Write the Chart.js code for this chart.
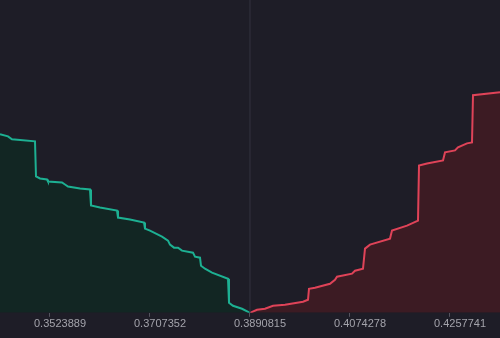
<!DOCTYPE html>
<html>
<head>
<meta charset="utf-8">
<script src="https://cdn.jsdelivr.net/npm/chart.js@4/dist/chart.umd.min.js"></script>
<style>
  html, body { margin: 0; padding: 0; background: #1e1d27; }
  #wrap { width: 500px; height: 338px; }
</style>
</head>
<body>
<div id="wrap"><canvas id="depth"></canvas></div>
<script>
// 买单（bids）价格与累计深度
const bidPrices = [0.3432158, 0.3446835, 0.3454174, 0.3496370, 0.3498205, 0.3505543, 0.3518386, 0.3520220,
  0.3545905, 0.3551409, 0.3556913, 0.3578928, 0.3597275, 0.3599109, 0.3615621, 0.3646810, 0.3648644,
  0.3670660, 0.3696345, 0.3698179, 0.3707353, 0.3722030, 0.3729368, 0.3740376, 0.3744045, 0.3751384,
  0.3758722, 0.3766061, 0.3786242, 0.3789911, 0.3799084, 0.3800919, 0.3808257, 0.3821100, 0.3850454,
  0.3852288, 0.3859627, 0.3876138, 0.3890815];
const bidDepth = [178, 176, 173, 171, 136, 134, 133, 131,
  130, 128, 126, 124, 123, 107, 105, 102, 95,
  93, 90, 84, 82, 78, 76, 72, 68, 65,
  65, 62, 60, 56, 55, 47, 44, 40, 34,
  10, 7, 4, 0];

// 卖单（asks）价格与累计深度
const askPrices = [0.3890815, 0.3903658, 0.3918335, 0.3933012, 0.3955028, 0.3988051, 0.3997224, 0.3999059,
  0.4010066, 0.4037586, 0.4046759, 0.4050428, 0.4077948, 0.4083452, 0.4098129, 0.4101798, 0.4110971,
  0.4147664, 0.4151333, 0.4178852, 0.4199033, 0.4200868, 0.4215545, 0.4244899, 0.4248568, 0.4266915,
  0.4272419, 0.4288930, 0.4298103, 0.4299938, 0.4349473];
const askDepth = [0, 3, 4, 7, 8, 11, 13, 24,
  25, 29, 33, 36, 39, 42, 44, 64, 68,
  74, 82, 87, 92, 147, 149, 152, 160, 162,
  165, 169, 170, 217, 220];

// 坐标轴
const midPrice = 0.3890815;
const xTicks = [0.3523889, 0.3707352, 0.3890815, 0.4074278, 0.4257741];
const xMin = 0.3432158;
const xMax = 0.4349473;
const depthMax = 312;

const toPoints = (xs, ys) => xs.map((x, i) => ({ x: x, y: ys[i] }));

new Chart(document.getElementById('depth'), {
  type: 'line',
  data: {
    datasets: [
      {
        data: [{ x: midPrice, y: 0 }, { x: midPrice, y: depthMax }],
        borderColor: '#34333f',
        borderWidth: 1,
        pointRadius: 0,
        fill: false
      },
      {
        data: toPoints(bidPrices, bidDepth),
        borderColor: '#1db092',
        backgroundColor: '#122623',
        borderWidth: 2,
        pointRadius: 0,
        fill: 'origin'
      },
      {
        data: toPoints(askPrices, askDepth),
        borderColor: '#df4358',
        backgroundColor: '#3c1b23',
        borderWidth: 2,
        pointRadius: 0,
        fill: 'origin'
      }
    ]
  },
  options: {
    responsive: true,
    maintainAspectRatio: false,
    animation: false,
    layout: { padding: { left: 0, right: 0, top: 0, bottom: 6 } },
    plugins: {
      legend: { display: false },
      tooltip: { enabled: false }
    },
    scales: {
      x: {
        type: 'linear',
        min: xMin,
        max: xMax,
        afterBuildTicks: (axis) => { axis.ticks = xTicks.map(v => ({ value: v })); },
        grid: {
          drawOnChartArea: false,
          drawTicks: true,
          tickLength: 4,
          color: '#55545f'
        },
        border: { display: false },
        ticks: {
          color: '#a3a3ab',
          padding: 1,
          labelOffset: 10,
          maxRotation: 0,
          autoSkip: false,
          font: { family: 'Liberation Sans, Arial, sans-serif', size: 11 },
          callback: (v) => Number(v).toFixed(7)
        }
      },
      y: {
        display: false,
        min: 0,
        max: depthMax
      }
    }
  }
});
</script>
</body>
</html>
